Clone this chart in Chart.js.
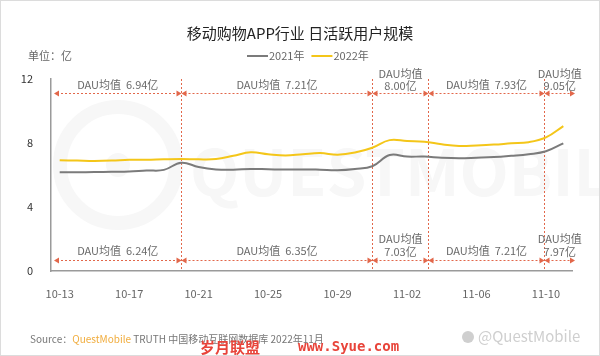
<!DOCTYPE html>
<html><head><meta charset="utf-8">
<script src="https://cdn.jsdelivr.net/npm/chart.js@4/dist/chart.umd.min.js"></script>
<style>html,body{margin:0;padding:0;background:#fff}canvas{display:block}</style>
</head><body>
<canvas id="c" width="600" height="356"></canvas>
<script>
// ---- data ----
const dates = ['10-13','10-14','10-15','10-16','10-17','10-18','10-19','10-20','10-21','10-22',
  '10-23','10-24','10-25','10-26','10-27','10-28','10-29','10-30','10-31','11-01',
  '11-02','11-03','11-04','11-05','11-06','11-07','11-08','11-09','11-10','11-11'];
const dau2021 = [6.17,6.17,6.18,6.20,6.22,6.28,6.32,6.77,6.50,6.35,
  6.33,6.38,6.36,6.34,6.35,6.33,6.30,6.38,6.55,7.25,
  7.15,7.15,7.08,7.05,7.08,7.12,7.20,7.30,7.48,7.98];
const dau2022 = [6.92,6.90,6.88,6.90,6.95,6.95,6.98,7.00,6.98,7.00,
  7.20,7.42,7.30,7.22,7.30,7.37,7.27,7.40,7.70,8.18,
  8.12,8.08,7.92,7.82,7.85,7.90,7.98,8.05,8.35,9.06];
const seriesNames = ['2021年','2022年'];
const yTicks = [0,4,8,12];
const segmentBreaks = [7, 18, 21.2, 27.9];   // date index where the averaging periods change
const avg2022 = ['6.94','7.21','8.00','7.93','9.05'];
const avg2021 = ['6.24','6.35','7.03','7.21','7.97'];
const titleText = '移动购物APP行业 日活跃用户规模';
const unitText = '单位：亿';

const FONT = "'Noto Sans CJK SC','Noto Sans',sans-serif";
const RED = '#e2674a';
const GRAY = '#7b7b7b';
const YELLOW = '#f4c619';

function arrowHead(ctx, x, y, dir) {
  ctx.beginPath();
  ctx.moveTo(x, y);
  ctx.lineTo(x - dir * 5, y - 3);
  ctx.lineTo(x - dir * 5, y + 3);
  ctx.closePath();
  ctx.fill();
}
function drawArrow(ctx, x1, x2, y) {
  ctx.save();
  ctx.strokeStyle = RED; ctx.fillStyle = RED; ctx.lineWidth = 1;
  ctx.setLineDash([2, 2]);
  ctx.beginPath(); ctx.moveTo(x1 + 3, y + 0.5); ctx.lineTo(x2 - 3, y + 0.5); ctx.stroke();
  ctx.setLineDash([]);
  arrowHead(ctx, x1, y + 0.5, -1);
  arrowHead(ctx, x2, y + 0.5, 1);
  ctx.restore();
}

const decor = {
  id: 'decor',
  beforeDraw(chart) {
    const ctx = chart.ctx;
    ctx.save();
    ctx.fillStyle = '#fff'; ctx.fillRect(0, 0, chart.width, chart.height);
    // faint background logo watermark
    ctx.strokeStyle = '#f7f7f7'; ctx.lineWidth = 14;
    ctx.beginPath(); ctx.arc(118, 165, 58, 0, Math.PI * 2); ctx.stroke();
    ctx.fillStyle = '#f7f7f7';
    ctx.beginPath(); ctx.arc(118, 165, 12, 0, Math.PI * 2); ctx.fill();
    ctx.font = "bold 64px " + FONT; ctx.textBaseline = 'middle'; ctx.textAlign = 'left';
    ctx.fillText('QUESTMOBILE', 190, 172);
    // outer border
    ctx.strokeStyle = '#dcdcdc'; ctx.lineWidth = 1;
    ctx.strokeRect(0.5, 0.5, chart.width - 1, chart.height - 1);
    ctx.restore();
  },
  beforeDatasetsDraw(chart) {
    const ctx = chart.ctx, x = chart.scales.x, a = chart.chartArea;
    ctx.save();
    ctx.strokeStyle = RED; ctx.lineWidth = 1; ctx.setLineDash([2, 2]);
    segmentBreaks.forEach(b => {
      const px = Math.round(x.getPixelForValue(b)) + 0.5;
      ctx.beginPath(); ctx.moveTo(px, a.top); ctx.lineTo(px, a.bottom); ctx.stroke();
    });
    ctx.restore();
  },
  afterDraw(chart) {
    const ctx = chart.ctx, x = chart.scales.x, a = chart.chartArea;
    ctx.save();
    // title
    ctx.fillStyle = '#222'; ctx.textAlign = 'center'; ctx.textBaseline = 'middle';
    ctx.font = "15px " + FONT;
    ctx.fillText(titleText, 300, 33);
    // unit
    ctx.font = "11px " + FONT; ctx.fillStyle = '#666'; ctx.textAlign = 'left';
    ctx.fillText(unitText, 28, 56);
    // legend
    const cols = [GRAY, YELLOW];
    let lx = 247;
    seriesNames.forEach((n, i) => {
      ctx.strokeStyle = cols[i]; ctx.lineWidth = 2;
      ctx.beginPath(); ctx.moveTo(lx, 56); ctx.lineTo(lx + 21, 56); ctx.stroke();
      ctx.fillStyle = '#666';
      ctx.fillText(n, lx + 22, 56);
      lx += 22 + ctx.measureText(n).width + 7;
    });
    // averaging periods
    const bounds = [a.left + 3].concat(segmentBreaks.map(b => Math.round(x.getPixelForValue(b)) + 0.5), [a.right + 3]);
    const rows = [
      { y: 93, vals: avg2022, one: 85, two: [74, 86] },
      { y: 260, vals: avg2021, one: 251, two: [239, 252] }
    ];
    ctx.font = "11px " + FONT; ctx.textAlign = 'center';
    rows.forEach(r => {
      for (let i = 0; i < bounds.length - 1; i++) {
        const x1 = bounds[i], x2 = bounds[i + 1];
        drawArrow(ctx, x1, x2, r.y);
        const mx = (x1 + x2) / 2;
        ctx.fillStyle = '#6a6a6a';
        if (x2 - x1 < 80) {
          ctx.fillText('DAU均值', mx, r.two[0]);
          ctx.fillText(r.vals[i] + '亿', mx, r.two[1]);
        } else {
          ctx.fillText('DAU均值  ' + r.vals[i] + '亿', mx, r.one);
        }
      }
    });
    // source line
    ctx.textAlign = 'left'; ctx.font = "10px " + FONT;
    let sx = 30;
    const parts = [['Source：', '#777'], ['QuestMobile', '#f1ad3e'], [' TRUTH 中国移动互联网数据库 2022年11月', '#777']];
    parts.forEach(p => { ctx.fillStyle = p[1]; ctx.fillText(p[0], sx, 339); sx += ctx.measureText(p[0]).width; });
    // corner watermark
    ctx.font = "15px " + FONT; ctx.fillStyle = '#cfcfcf';
    ctx.fillText('@QuestMobile', 478, 336);
    ctx.beginPath(); ctx.arc(468, 337, 6, 0, Math.PI * 2); ctx.fill();
    // site watermark
    ctx.font = "bold 15px " + FONT; ctx.fillStyle = '#e8443a';
    ctx.fillText('岁月联盟', 200, 347);
    ctx.font = "bold 14px 'DejaVu Sans Mono',monospace";
    ctx.fillText('www.Syue.com', 298, 347);
    ctx.restore();
  }
};

new Chart(document.getElementById('c'), {
  type: 'line',
  data: {
    labels: dates,
    datasets: [
      { label: seriesNames[0], data: dau2021, borderColor: GRAY, borderWidth: 2, pointRadius: 0, tension: 0.4, fill: false },
      { label: seriesNames[1], data: dau2022, borderColor: YELLOW, borderWidth: 2, pointRadius: 0, tension: 0.4, fill: false }
    ]
  },
  options: {
    responsive: false, animation: false, devicePixelRatio: 1,
    layout: { padding: { left: 0, right: 28, top: 79, bottom: 0 } },
    plugins: { legend: { display: false }, title: { display: false }, tooltip: { enabled: false } },
    scales: {
      x: {
        type: 'category', offset: true,
        grid: { display: false },
        border: { display: true, color: '#9a9a9a', width: 1.5 },
        ticks: {
          autoSkip: false, maxRotation: 0, padding: 8, color: '#666',
          font: { size: 11, family: FONT },
          callback: (v, i) => (i % 4 === 0 ? dates[i] : '')
        },
        afterFit: s => { s.height = 85; }
      },
      y: {
        min: 0, max: 12,
        afterBuildTicks: s => { s.ticks = yTicks.map(v => ({ value: v })); },
        grid: { display: false },
        border: { display: true, color: '#9a9a9a', width: 1.5 },
        ticks: { color: '#333', padding: 10, font: { size: 11, family: FONT } },
        afterFit: s => { s.width = 51; }
      }
    }
  },
  plugins: [decor]
});
</script>
</body></html>
